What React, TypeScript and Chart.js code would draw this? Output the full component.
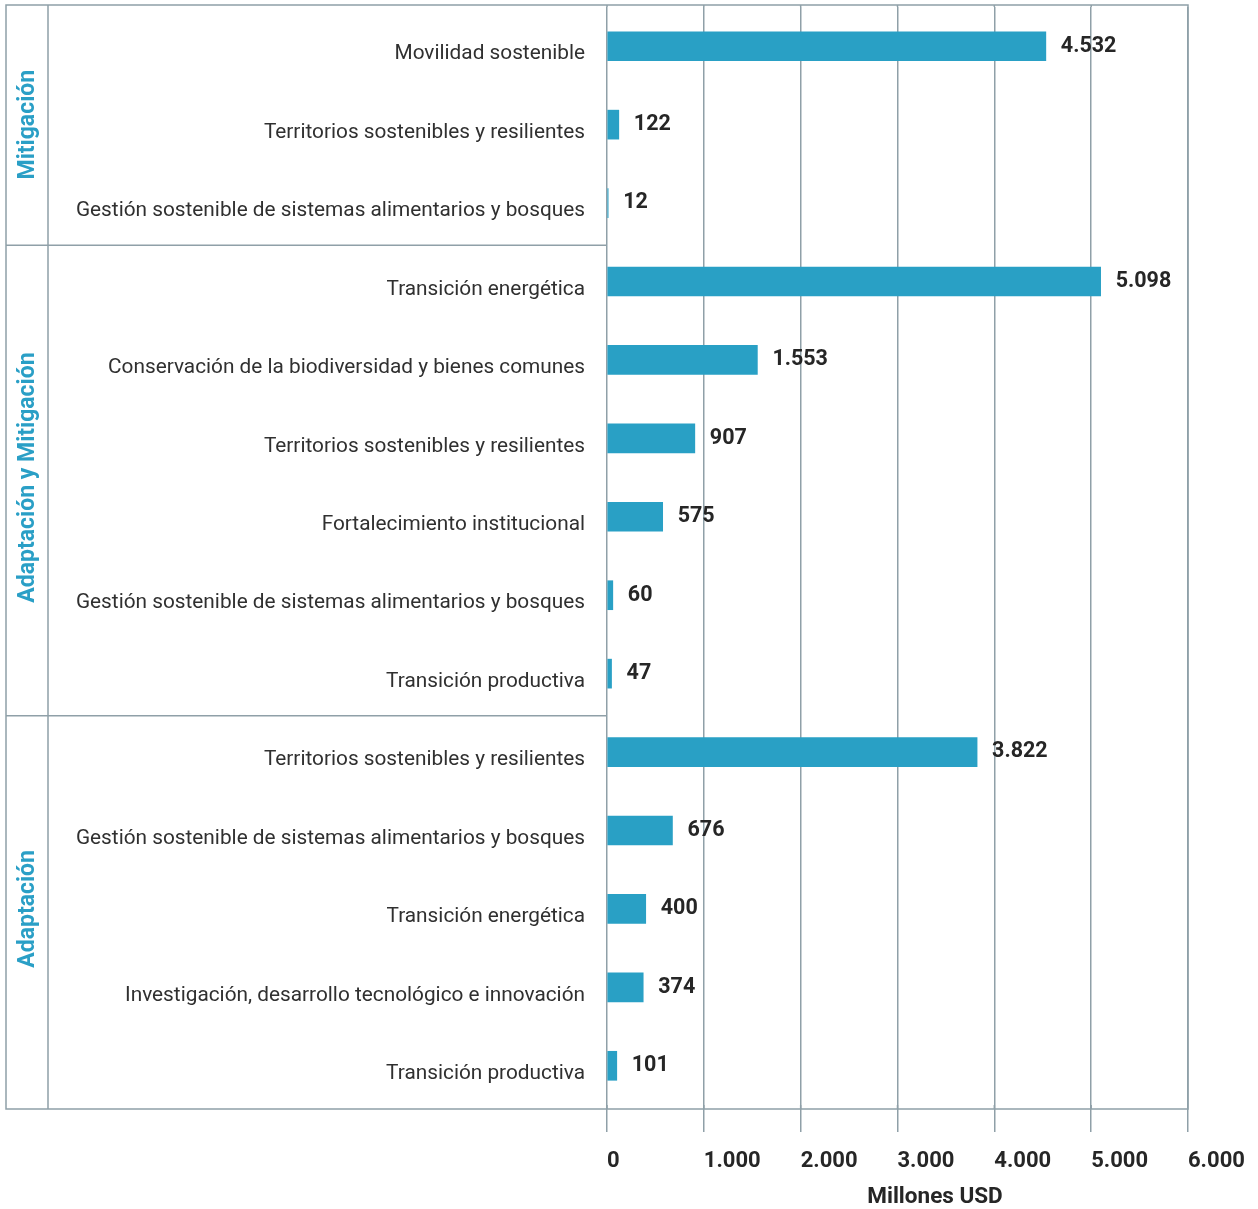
import React, { useEffect, useRef } from 'react';
import { Chart, registerables } from 'chart.js';

Chart.register(...registerables);

const categories = [
  'Movilidad sostenible',
  'Territorios sostenibles y resilientes',
  'Gestión sostenible de sistemas alimentarios y bosques',
  'Transición energética',
  'Conservación de la biodiversidad y bienes comunes',
  'Territorios sostenibles y resilientes',
  'Fortalecimiento institucional',
  'Gestión sostenible de sistemas alimentarios y bosques',
  'Transición productiva',
  'Territorios sostenibles y resilientes',
  'Gestión sostenible de sistemas alimentarios y bosques',
  'Transición energética',
  'Investigación, desarrollo tecnológico e innovación',
  'Transición productiva',
];
const values = [4532, 122, 12, 5098, 1553, 907, 575, 60, 47, 3822, 676, 400, 374, 101];
const groupNames = ['Mitigación', 'Adaptación y Mitigación', 'Adaptación'];
const groupSizes = [3, 6, 5];
const xTicks = [0, 1000, 2000, 3000, 4000, 5000, 6000];
const axisTitle = 'Millones USD';

const FONT = 'Roboto';
const LINE = '#8fa0a8';
const BAR = '#29a0c5';
const TEXT = '#262626';

const fmt = (n: number) => String(n).replace(/\B(?=(\d{3})+(?!\d))/g, '.');

const tablePlugin = {
  id: 'tablePlugin',
  beforeDatasetsDraw(chart: any) {
    const { ctx, chartArea, scales } = chart;
    const x = scales.x;
    const y = scales.y;
    const left = 6;
    const right = x.getPixelForValue(xTicks[xTicks.length - 1]);
    const top = 5;
    const bottom = 1109;
    ctx.save();
    ctx.strokeStyle = LINE;
    ctx.lineWidth = 1.5;
    ctx.beginPath();
    ctx.rect(left, top, right - left, bottom - top);
    ctx.moveTo(48, top);
    ctx.lineTo(48, bottom);
    xTicks.forEach((t) => {
      const px = x.getPixelForValue(t);
      ctx.moveTo(px, top);
      ctx.lineTo(px, chartArea.top);
      ctx.moveTo(px, chartArea.bottom);
      ctx.lineTo(px, bottom);
    });
    let idx = 0;
    for (let g = 0; g < groupSizes.length - 1; g++) {
      idx += groupSizes[g];
      const sy = (y.getPixelForValue(idx - 1) + y.getPixelForValue(idx)) / 2 + 3;
      ctx.moveTo(left, sy);
      ctx.lineTo(x.getPixelForValue(0), sy);
    }
    ctx.stroke();
    ctx.restore();
  },
  afterDatasetsDraw(chart: any) {
    const { ctx, scales } = chart;
    const y = scales.y;
    const meta = chart.getDatasetMeta(0);
    ctx.save();
    ctx.fillStyle = TEXT;
    ctx.font = `bold 21.5px ${FONT}`;
    ctx.textAlign = 'left';
    ctx.textBaseline = 'middle';
    meta.data.forEach((el: any, i: number) => {
      ctx.fillText(fmt(values[i]), el.x + 15, el.y);
    });
    ctx.fillStyle = '#2a9fc6';
    ctx.font = `bold 23px ${FONT}`;
    ctx.textAlign = 'center';
    let start = 0;
    groupNames.forEach((name, g) => {
      const end = start + groupSizes[g] - 1;
      const cy = (y.getPixelForValue(start) + y.getPixelForValue(end)) / 2;
      ctx.save();
      ctx.translate(28, cy);
      ctx.rotate(-Math.PI / 2);
      ctx.fillText(name, 0, 0);
      ctx.restore();
      start = end + 1;
    });
    ctx.fillStyle = TEXT;
    ctx.font = `bold 22.5px ${FONT}`;
    ctx.textAlign = 'center';
    ctx.fillText(axisTitle, 935, 1197);
    ctx.restore();
  },
};

export default function App() {
  const ref = useRef<HTMLCanvasElement | null>(null);
  useEffect(() => {
    document.body.style.margin = '0';
    if (!ref.current) return;
    const chart = new Chart(ref.current, {
      type: 'bar',
      data: {
        labels: categories,
        datasets: [
          {
            data: values,
            backgroundColor: BAR,
            borderWidth: 0,
            barThickness: 29,
          },
        ],
      },
      options: {
        indexAxis: 'y',
        responsive: false,
        animation: false,
        layout: { padding: { top: 7, right: 70, left: 0, bottom: 0 } },
        plugins: { legend: { display: false }, tooltip: { enabled: false } },
        scales: {
          x: {
            min: 0,
            max: 6000,
            position: 'bottom',
            afterBuildTicks: (s: any) => {
              s.ticks = xTicks.map((v) => ({ value: v }));
            },
            afterFit: (s: any) => {
              s.height = 104;
              s.paddingLeft = 0;
              s.paddingRight = 0;
            },
            grid: { color: LINE, lineWidth: 1.5, tickLength: 27, drawTicks: true, tickColor: LINE },
            border: { display: false },
            ticks: {
              align: 'start',
              padding: 16,
              color: TEXT,
              font: { family: FONT, size: 22, weight: 'bold' },
              callback: (v: any) => fmt(Number(v)),
              maxRotation: 0,
            },
          },
          y: {
            afterFit: (s: any) => {
              s.width = 607;
              s.paddingTop = 0;
              s.paddingBottom = 0;
            },
            grid: { display: false, drawTicks: false },
            border: { display: false },
            ticks: {
              padding: 22,
              labelOffset: 8,
              color: '#303030',
              autoSkip: false,
              font: { family: FONT, size: 20.8 },
            },
          },
        },
      },
      plugins: [tablePlugin],
    });
    return () => chart.destroy();
  }, []);
  return <canvas ref={ref} width={1258} height={1209} style={{ display: 'block' }} />;
}
